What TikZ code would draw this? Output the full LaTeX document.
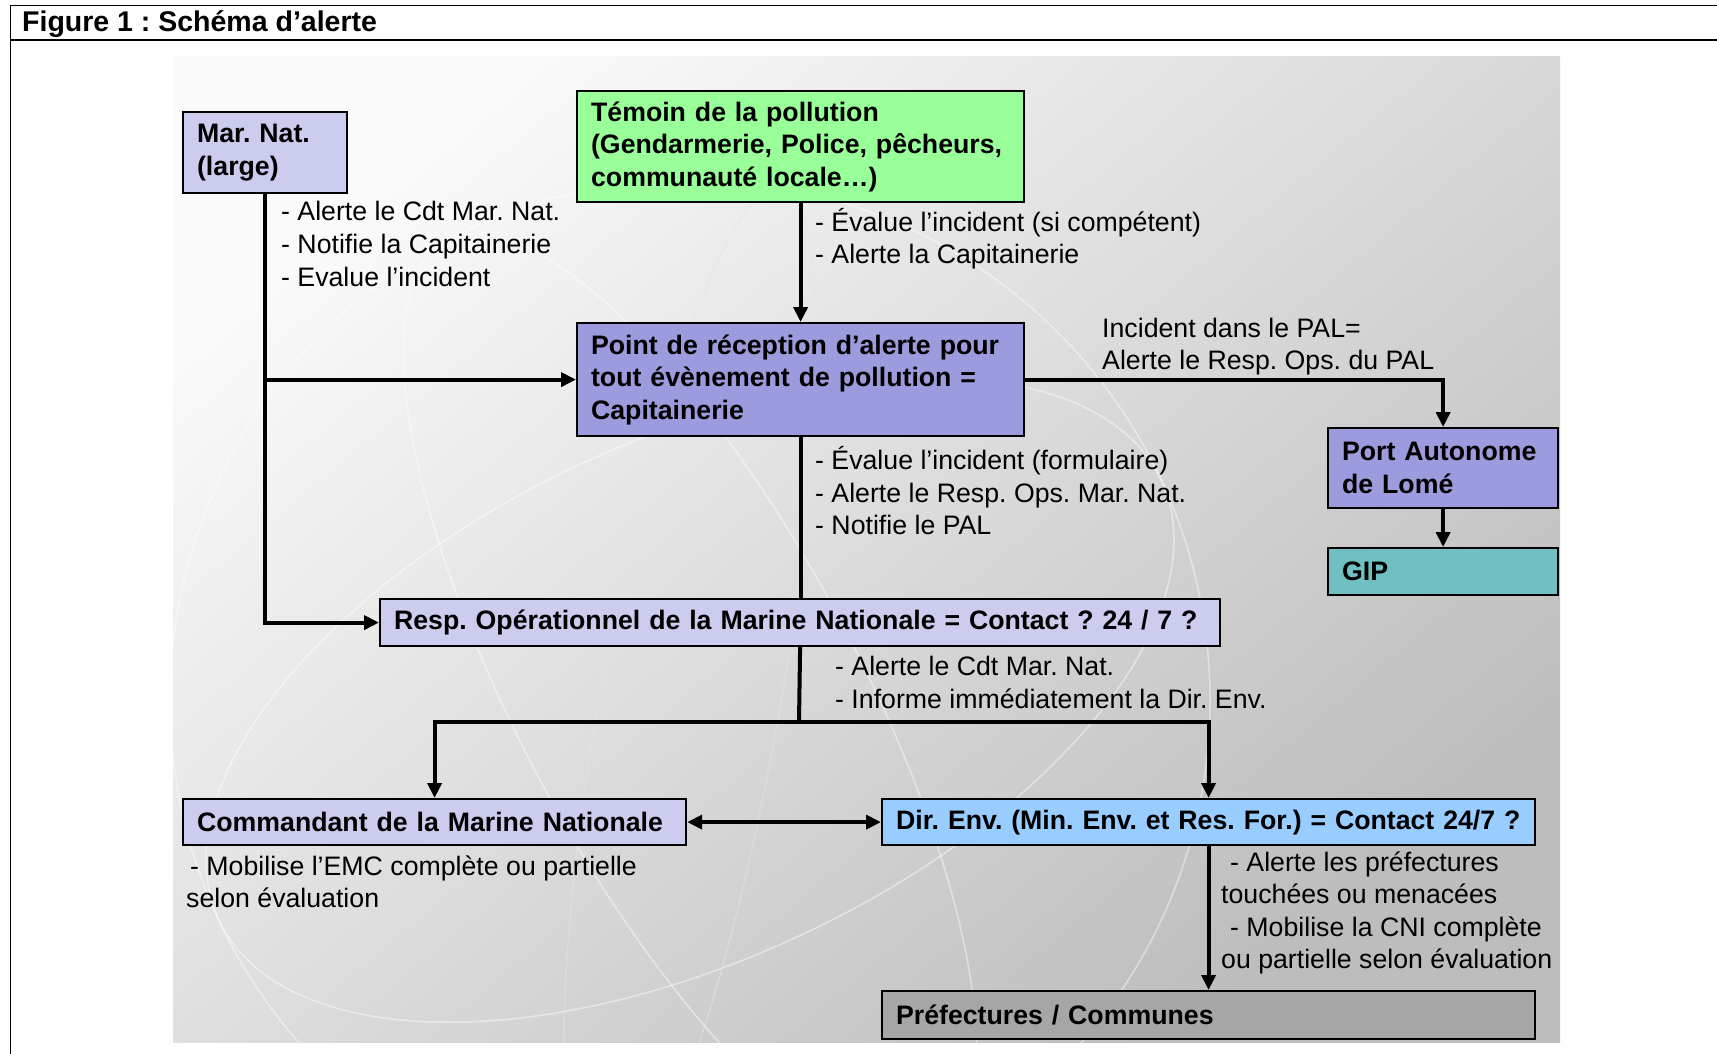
\documentclass[tikz,border=0pt]{standalone}
\usepackage{fontspec}
\setmainfont{Liberation Sans}
\frenchspacing
\usetikzlibrary{arrows.meta}
\definecolor{lav}{HTML}{CCCCEE}
\definecolor{grn}{HTML}{99FF99}
\definecolor{pur}{HTML}{9B9BDD}
\definecolor{teal2}{HTML}{70BFC2}
\definecolor{sky}{HTML}{99CCFF}
\definecolor{grey2}{HTML}{A6A6A6}
\begin{document}
\begin{tikzpicture}[x=1pt,y=-1pt,
  box/.style={draw=black, line width=2.2pt, rectangle, anchor=north west,
    inner xsep=14pt, inner ysep=0pt, align=left,
    font=\frenchspacing\bfseries\fontsize{26.7}{32.5}\selectfont},
  lbl/.style={anchor=base west, inner sep=0pt, font=\frenchspacing\fontsize{26.7}{32.5}\selectfont},
  conn/.style={line width=4pt},
  arr/.style={conn, -{Triangle[length=15pt,width=14pt]}},
  darr/.style={conn, {Triangle[length=15pt,width=14pt]}-{Triangle[length=15pt,width=14pt]}},
  swirl/.style={line width=1.5pt, white, opacity=0.45}
]
\useasboundingbox (0,0) rectangle (1717,1054);
\fill[white] (0,0) rectangle (1717,1054);
% frame
\draw[line width=1.6pt] (10.5,1060) -- (10.5,5.5) -- (1720,5.5);
\draw[line width=1.6pt] (10.5,40) -- (1720,40);
\node[anchor=base west, inner sep=0pt, font=\frenchspacing\bfseries\fontsize{28.5}{34}\selectfont] (title) at (22,31.5) {Figure 1 : Schéma d’alerte};
% background
\shade[shading=axis, top color=black!2, bottom color=black!26, shading angle=40] (173,57) rectangle (1560,1042);
\begin{scope}
\clip (173,57) rectangle (1560,1042);
\draw[swirl] (690,700) circle[radius=520pt];
\draw[swirl, rotate around={-62:(690,700)}] (690,700) ellipse[x radius=520pt, y radius=170pt];
\draw[swirl, rotate around={25:(690,700)}] (690,700) ellipse[x radius=520pt, y radius=260pt];
\draw[swirl, black!10, rotate around={80:(690,700)}] (690,700) ellipse[x radius=520pt, y radius=90pt];
\end{scope}
% boxes
\node[box, fill=lav, text width=136pt, minimum height=81pt] (marnat) at (182,111) {Mar. Nat.\\(large)};
\node[box, fill=grn, text width=419pt, minimum height=111pt] (temoin) at (576,90) {Témoin de la pollution\\(Gendarmerie, Police, pêcheurs,\\communauté locale…)};
\node[box, fill=pur, text width=419pt, minimum height=113pt] (capit) at (576,322) {Point de réception d’alerte pour\\tout évènement de pollution =\\Capitainerie};
\node[box, fill=pur, text width=202pt, minimum height=80pt] (port) at (1327,427) {Port Autonome\\de Lomé};
\node[box, fill=teal2, text width=202pt, minimum height=47pt] (gip) at (1327,547) {GIP};
\node[box, fill=lav, text width=812pt, minimum height=47pt] (resp) at (379,598) {\mbox{Resp. Opérationnel de la Marine Nationale = Contact ? 24 / 7 ?}};
\node[box, fill=lav, text width=475pt, minimum height=46pt] (cmd) at (182,798) {\mbox{Commandant de la Marine Nationale}};
\node[box, fill=sky, text width=625pt, minimum height=46pt] (dir) at (881,798) {\mbox{Dir. Env. (Min. Env. et Res. For.) = Contact 24/7 ?}};
\node[box, fill=grey2, text width=625pt, minimum height=48pt] (pref) at (881,990) {Préfectures / Communes};
% connectors
\draw[arr] (marnat.south) |- (resp.west);
\draw[arr] (marnat.south |- capit.west) -- (capit.west);
\draw[arr] (temoin.south) -- (capit.north);
\draw[arr] (capit.east) -| (port.north);
\draw[arr] (port.south) -- (gip.north);
\draw[conn] (capit.south) -- (capit.south |- resp.north);
\coordinate (split) at (799,722);
\draw[conn] (resp.south) -- (split);
\draw[arr] (split) -| (cmd.north);
\draw[arr] (split) -| (dir.north);
\draw[darr] (cmd.east) -- (dir.west);
\draw[arr] (dir.south) -- (pref.north);
% labels
\node[lbl] (m1) at (281,220) {- Alerte le Cdt Mar. Nat.};
\node[lbl] (m2) at (281,253) {- Notifie la Capitainerie};
\node[lbl] (m3) at (281,286) {- Evalue l’incident};
\node[lbl] (t1) at (815,231) {- Évalue l’incident (si compétent)};
\node[lbl] (t2) at (815,263) {- Alerte la Capitainerie};
\node[lbl] (p1) at (1102,337) {Incident dans le PAL=};
\node[lbl] (p2) at (1102,369) {Alerte le Resp. Ops. du PAL};
\node[lbl] (c1) at (815,469) {- Évalue l’incident (formulaire)};
\node[lbl] (c2) at (815,502) {- Alerte le Resp. Ops. Mar. Nat.};
\node[lbl] (c3) at (815,534) {- Notifie le PAL};
\node[lbl] (r1) at (835,675) {- Alerte le Cdt Mar. Nat.};
\node[lbl] (r2) at (835,708) {- Informe immédiatement la Dir. Env.};
\node[lbl] (k1) at (190,875) {- Mobilise l’EMC complète ou partielle};
\node[lbl] (k2) at (186,907) {selon évaluation};
\node[lbl] (d1) at (1230,871) {- Alerte les préfectures};
\node[lbl] (d2) at (1221,903.5) {touchées ou menacées};
\node[lbl] (d3) at (1230,936) {- Mobilise la CNI complète};
\node[lbl] (d4) at (1221,968) {ou partielle selon évaluation};
\end{tikzpicture}
\end{document}
